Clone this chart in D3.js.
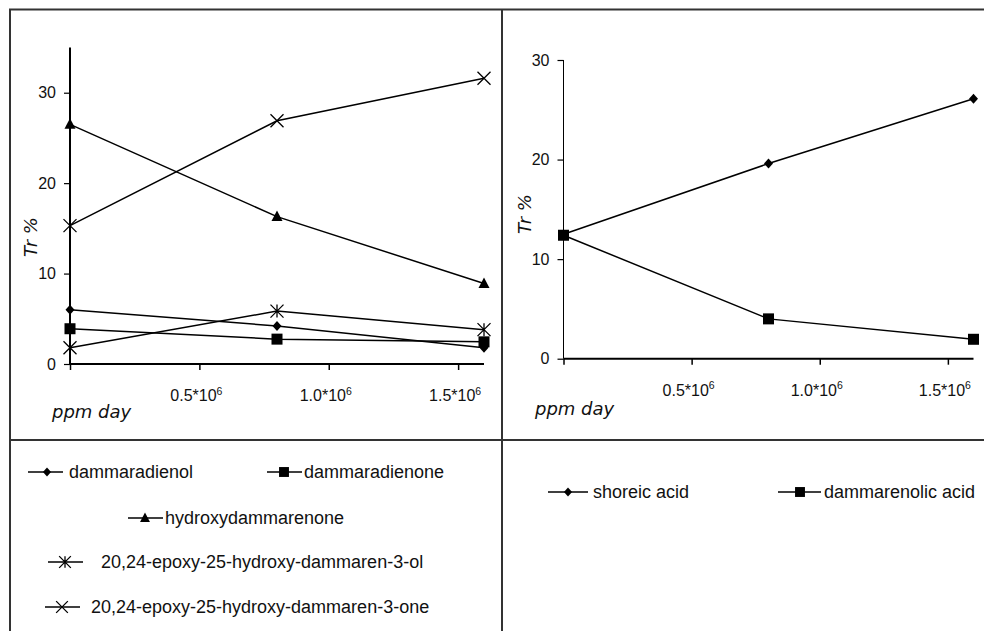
<!DOCTYPE html>
<html><head><meta charset="utf-8">
<script src="https://cdn.jsdelivr.net/npm/d3@7"></script>
<style>body{margin:0;background:#fff}svg{display:block}</style>
</head><body>
<script>
// ---- data ----
const xValues = [0, 800000, 1600000];
const xTicks = [0, 500000, 1000000, 1500000];
const xTickLabels = ["", "0.5*10", "1.0*10", "1.5*10"];
const yTicksLeft = [0, 10, 20, 30];
const yTicksRight = [0, 10, 20, 30];

const leftNames = ["dammaradienol", "dammaradienone", "hydroxydammarenone",
  "20,24-epoxy-25-hydroxy-dammaren-3-ol", "20,24-epoxy-25-hydroxy-dammaren-3-one"];
const leftMarkers = ["diamond", "square", "triangle", "asterisk", "cross"];
const dammaradienol = [6.0, 4.2, 1.8];
const dammaradienone = [3.9, 2.75, 2.45];
const hydroxydammarenone = [26.5, 16.3, 8.9];
const epoxyOl = [1.8, 5.85, 3.8];
const epoxyOne = [15.3, 26.9, 31.6];
const leftSeries = [dammaradienol, dammaradienone, hydroxydammarenone, epoxyOl, epoxyOne];

const rightNames = ["shoreic acid", "dammarenolic acid"];
const rightMarkers = ["diamond", "square"];
const shoreicAcid = [12.5, 19.6, 26.1];
const dammarenolicAcid = [12.4, 4.0, 1.95];
const rightSeries = [shoreicAcid, dammarenolicAcid];

// ---- drawing ----
const W = 984, H = 631;
const svg = d3.select("body").append("svg").attr("width", W).attr("height", H);
const FRAME = "#333";
const SANS = "Liberation Sans, Arial, sans-serif";

// frame
svg.append("rect").attr("x", 10).attr("y", 9.5).attr("width", 990).attr("height", 640)
  .attr("fill", "none").attr("stroke", FRAME).attr("stroke-width", 2);
svg.append("line").attr("x1", 502).attr("x2", 502).attr("y1", 9).attr("y2", 640)
  .attr("stroke", FRAME).attr("stroke-width", 2);
svg.append("line").attr("x1", 10).attr("x2", 984).attr("y1", 440).attr("y2", 440)
  .attr("stroke", FRAME).attr("stroke-width", 2);

function marker(g, type, x, y, s) {
  const k = s || 1;
  if (type === "diamond") {
    g.append("path").attr("d", `M${x},${y-5*k}L${x+4.5*k},${y}L${x},${y+5*k}L${x-4.5*k},${y}Z`).attr("fill", "#000");
  } else if (type === "square") {
    g.append("rect").attr("x", x-5.5*k).attr("y", y-5.5*k).attr("width", 11*k).attr("height", 11*k).attr("fill", "#000");
  } else if (type === "triangle") {
    g.append("path").attr("d", `M${x},${y-6*k}L${x+5.5*k},${y+4.5*k}L${x-5.5*k},${y+4.5*k}Z`).attr("fill", "#000");
  } else if (type === "asterisk") {
    const r = 6.5*k;
    g.append("path").attr("d", `M${x-r},${y-r}L${x+r},${y+r}M${x-r},${y+r}L${x+r},${y-r}M${x},${y-r}L${x},${y+r}`)
      .attr("stroke", "#000").attr("stroke-width", 1.3).attr("fill", "none");
  } else if (type === "cross") {
    const r = 6.5*k;
    g.append("path").attr("d", `M${x-r},${y-r}L${x+r},${y+r}M${x-r},${y+r}L${x+r},${y-r}`)
      .attr("stroke", "#000").attr("stroke-width", 1.3).attr("fill", "none");
  }
}

function panel(cfg) {
  const x = d3.scaleLinear().domain([0, 1600000]).range([cfg.x0, cfg.x1]);
  const y = d3.scaleLinear().domain([0, cfg.ymax]).range([cfg.y0, cfg.y1]);
  const g = svg.append("g");
  // x axis
  const xa = g.append("g").attr("transform", `translate(0,${cfg.y0})`)
    .call(d3.axisBottom(x).tickValues(xTicks).tickSize(6).tickFormat(""));
  xa.select(".domain").attr("stroke-width", 2).attr("d", `M${cfg.x0},0H${cfg.x1}`);
  xa.selectAll(".tick line").attr("stroke-width", 1.5);
  xTicks.forEach((t, i) => {
    if (!xTickLabels[i]) return;
    const tx = g.append("text").attr("x", x(t) - 3).attr("y", cfg.y0 + 37)
      .attr("text-anchor", "middle").attr("font-family", SANS)
      .attr("font-size", 16).attr("fill", "#111");
    tx.append("tspan").text(xTickLabels[i]);
    tx.append("tspan").attr("font-size", 10.5).attr("dy", -6.5).text("6");
  });
  // y axis
  const ya = g.append("g").attr("transform", `translate(${cfg.x0},0)`)
    .call(d3.axisLeft(y).tickValues(cfg.yTicks).tickSize(6).tickPadding(8).tickFormat(d3.format("d")));
  ya.select(".domain").attr("stroke-width", cfg.yStroke).attr("d", `M0,${cfg.y0}V${cfg.y1}`);
  ya.selectAll(".tick line").attr("stroke-width", 1.2);
  ya.selectAll(".tick text").attr("font-family", SANS)
    .attr("font-size", 16).attr("fill", "#111");
  // axis titles
  g.append("text").attr("x", cfg.ppmX).attr("y", cfg.ppmY).attr("font-family", "DejaVu Sans, Verdana, sans-serif")
    .attr("font-style", "italic").attr("font-size", 18).attr("fill", "#111").text("ppm day");
  g.append("text").attr("transform", `translate(${cfg.trX},${cfg.trY}) rotate(-90)`)
    .attr("text-anchor", "middle").attr("font-family", "DejaVu Sans, Verdana, sans-serif")
    .attr("font-style", "italic").attr("font-size", 18).attr("fill", "#111").text("Tr %");
  // series
  const line = d3.line().x((d, i) => x(xValues[i])).y(d => y(d));
  cfg.series.forEach((s, k) => {
    g.append("path").datum(s).attr("d", line).attr("fill", "none")
      .attr("stroke", "#000").attr("stroke-width", 1.5);
    s.forEach((v, i) => marker(g, cfg.markers[k], x(xValues[i]), y(v)));
  });
}

panel({x0: 70, x1: 484, y0: 364, y1: 47.5, ymax: 35, yTicks: yTicksLeft, yStroke: 2,
  series: leftSeries, markers: leftMarkers, ppmX: 52, ppmY: 418, trX: 37, trY: 237});
panel({x0: 563.5, x1: 973.5, y0: 358.7, y1: 60, ymax: 30, yTicks: yTicksRight, yStroke: 1,
  series: rightSeries, markers: rightMarkers, ppmX: 535, ppmY: 415, trX: 531, trY: 214});

// legends
function legendItem(x1, x2, mx, ty, tx, type, label) {
  const g = svg.append("g");
  g.append("line").attr("x1", x1).attr("x2", x2).attr("y1", ty).attr("y2", ty)
    .attr("stroke", "#000").attr("stroke-width", 1.5);
  marker(g, type, mx, ty, type === "square" ? 0.9 : 0.9);
  g.append("text").attr("x", tx).attr("y", ty + 6).attr("font-family", SANS)
    .attr("font-size", 18).attr("fill", "#111").text(label);
}
const legLeft = [
  [28, 63, 47, 472, 69],
  [267, 302, 284, 472, 304],
  [128, 163, 145, 518, 165],
  [48, 83, 65, 562, 101],
  [45, 80, 62, 607, 91]
];
legLeft.forEach((p, i) => legendItem(p[0], p[1], p[2], p[3], p[4], leftMarkers[i], leftNames[i]));
const legRight = [
  [548, 588, 568, 492, 593],
  [778, 821, 800, 492, 824]
];
legRight.forEach((p, i) => legendItem(p[0], p[1], p[2], p[3], p[4], rightMarkers[i], rightNames[i]));
</script>
</body></html>
